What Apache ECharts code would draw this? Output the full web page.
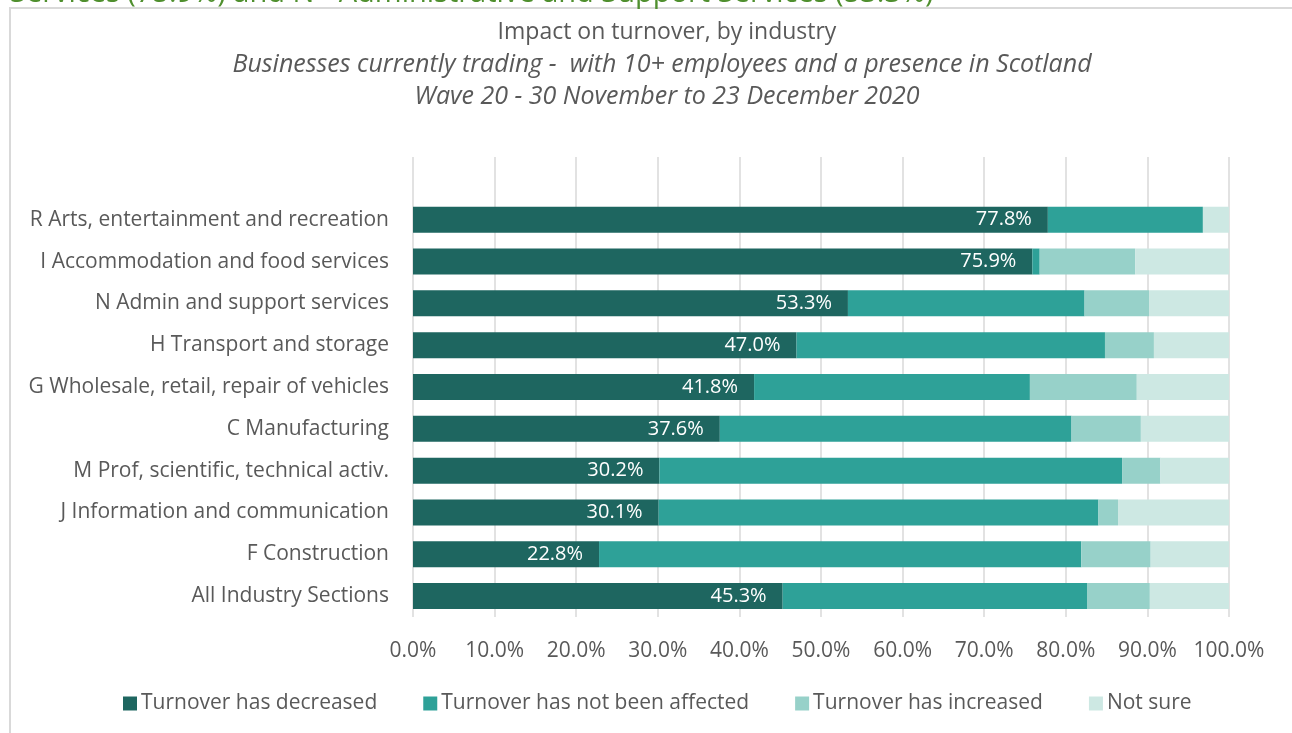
<!DOCTYPE html>
<html>
<head>
<meta charset="utf-8">
<script src="https://cdn.jsdelivr.net/npm/echarts@6/dist/echarts.min.js"></script>
<style>
  html, body { margin: 0; padding: 0; background: #ffffff; overflow: hidden; }
  #chart { width: 1292px; height: 733px; }
</style>
</head>
<body>
<div id="chart"></div>
<script>
// Industry rows, top to bottom (the first row is an empty spacer band)
const industries = [
  '',
  'R Arts, entertainment and recreation',
  'I Accommodation and food services',
  'N Admin and support services',
  'H Transport and storage',
  'G Wholesale, retail, repair of vehicles',
  'C Manufacturing',
  'M Prof, scientific, technical activ.',
  'J Information and communication',
  'F Construction',
  'All Industry Sections'
];

// Share of businesses (%) per response, in the same row order (spacer excluded)
const decreased   = [77.8, 75.9, 53.3, 47.0, 41.8, 37.6, 30.2, 30.1, 22.8, 45.3];
const notAffected = [19.0,  0.9, 29.0, 37.8, 33.8, 43.1, 56.7, 53.9, 59.1, 37.3];
const increased   = [ 0.0, 11.7,  7.9,  6.0, 13.1,  8.5,  4.7,  2.4,  8.5,  7.7];
const notSure     = [ 3.2, 11.5,  9.8,  9.2, 11.3, 10.8,  8.4, 13.6,  9.6,  9.7];

const seriesNames = [
  'Turnover has decreased',
  'Turnover has not been affected',
  'Turnover has increased',
  'Not sure'
];
const xTicks = [0, 10, 20, 30, 40, 50, 60, 70, 80, 90, 100];

const headline = 'Services (75.9%) and N - Administrative and Support Services (53.3%)';
const titleMain = 'Impact on turnover, by industry';
const titleSub1 = 'Businesses currently trading -  with 10+ employees and a presence in Scotland';
const titleSub2 = 'Wave 20 - 30 November to 23 December 2020';

const FONT = '"Open Sans", Lato, sans-serif';
const GREY = '#595959';
const colors = ['#1e6660', '#2ea198', '#97d1c9', '#cde8e3'];

const withSpacer = arr => [null].concat(arr);

const chart = echarts.init(document.getElementById('chart'), null, { renderer: 'canvas' });

const makeSeries = (name, values, color, labelled) => ({
  name: name,
  type: 'bar',
  stack: 'total',
  barWidth: 26,
  data: withSpacer(values),
  itemStyle: { color: color },
  emphasis: { disabled: true },
  label: labelled ? {
    show: true,
    position: 'insideRight',
    distance: 16,
    color: '#ffffff',
    fontFamily: FONT,
    fontSize: 20,
    formatter: p => p.value.toFixed(1) + '%'
  } : { show: false }
});

chart.setOption({
  animation: false,
  backgroundColor: '#ffffff',
  textStyle: { fontFamily: FONT },
  graphic: [
    // chart frame: top and left edges
    {
      type: 'polyline',
      shape: { points: [[10, 740], [10, 8], [1300, 8]] },
      style: { fill: null, stroke: '#d9d9d9', lineWidth: 2 },
      z: -10
    },
    {
      type: 'text',
      style: {
        x: 10, y: 8,
        text: headline,
        fill: '#4f8f2e',
        fontFamily: FONT,
        fontSize: 29,
        verticalAlign: 'bottom'
      }
    }
  ],
  title: [
    {
      text: titleMain,
      left: 662, top: 16, textAlign: 'center',
      textStyle: { color: GREY, fontFamily: FONT, fontSize: 23, fontWeight: 'normal' }
    },
    {
      text: titleSub1,
      left: 657, top: 47, textAlign: 'center',
      textStyle: { color: GREY, fontFamily: FONT, fontSize: 25, fontWeight: 'normal', fontStyle: 'italic' }
    },
    {
      text: titleSub2,
      left: 662, top: 79, textAlign: 'center',
      textStyle: { color: GREY, fontFamily: FONT, fontSize: 25, fontWeight: 'normal', fontStyle: 'italic' }
    }
  ],
  legend: {
    data: seriesNames,
    left: 118, top: 688,
    itemWidth: 14, itemHeight: 14,
    itemGap: 46,
    icon: 'rect',
    textStyle: { color: GREY, fontFamily: FONT, fontSize: 21, padding: [0, 0, 0, -1] },
    selectedMode: false
  },
  grid: { left: 413, right: 63, top: 157, bottom: 116, containLabel: false },
  xAxis: {
    type: 'value',
    min: 0, max: 100, interval: 10,
    axisLine: { show: false },
    axisTick: { show: false },
    splitLine: { show: true, lineStyle: { color: '#d9d9d9', width: 1.5 } },
    axisLabel: {
      color: GREY, fontFamily: FONT, fontSize: 21, margin: 24,
      formatter: v => xTicks.indexOf(v) >= 0 ? v.toFixed(1) + '%' : ''
    }
  },
  yAxis: {
    type: 'category',
    data: industries,
    inverse: true,
    axisLine: { show: false },
    axisTick: { show: false },
    splitLine: { show: false },
    axisLabel: { color: GREY, fontFamily: FONT, fontSize: 21, margin: 24 }
  },
  series: [
    makeSeries(seriesNames[0], decreased, colors[0], true),
    makeSeries(seriesNames[1], notAffected, colors[1], false),
    makeSeries(seriesNames[2], increased, colors[2], false),
    makeSeries(seriesNames[3], notSure, colors[3], false)
  ]
});
</script>
</body>
</html>
